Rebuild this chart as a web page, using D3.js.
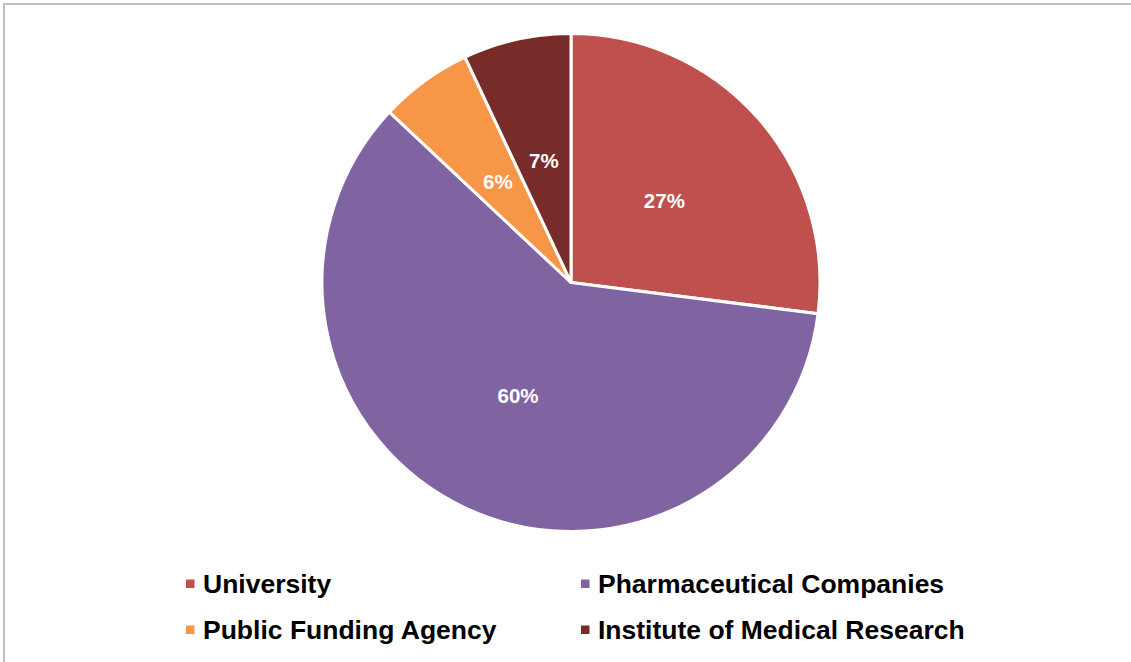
<!DOCTYPE html>
<html>
<head>
<meta charset="utf-8">
<script src="https://cdn.jsdelivr.net/npm/d3@7"></script>
<style>
  html, body { margin: 0; padding: 0; background: #fff; }
  svg { display: block; }
</style>
</head>
<body>
<svg id="chart" width="1131" height="662"></svg>
<script>
// Funding sources, share in percent
const categories = ["University", "Pharmaceutical Companies", "Public Funding Agency", "Institute of Medical Research"];
const shares = [27, 60, 6, 7];
const colors = ["#C0504D", "#8064A2", "#F79646", "#772C2A"];

const svg = d3.select("#chart");
const W = 1131, H = 662;

// chart frame (top, left, right edges visible)
svg.append("path")
  .attr("d", `M4,${H} V4 H${W}`)
  .attr("fill", "none")
  .attr("stroke", "#bfbfbf")
  .attr("stroke-width", 2);

const cx = 571, cy = 282.5, R = 249;

const data = categories.map((c, i) => ({ name: c, value: shares[i], color: colors[i] }));

const pie = d3.pie().value(d => d.value).sort(null);
const arc = d3.arc().innerRadius(0).outerRadius(R);

const g = svg.append("g").attr("transform", `translate(${cx},${cy})`);
const arcs = pie(data);

g.selectAll("path.slice")
  .data(arcs)
  .join("path")
  .attr("class", "slice")
  .attr("d", arc)
  .attr("fill", d => d.data.color)
  .attr("stroke", "#fff")
  .attr("stroke-width", 3)
  .attr("stroke-linejoin", "round");

g.selectAll("text.pct")
  .data(arcs)
  .join("text")
  .attr("class", "pct")
  .attr("transform", d => `translate(${arc.centroid(d)})`)
  .attr("text-anchor", "middle")
  .attr("dy", "0.36em")
  .attr("fill", "#fff")
  .attr("font-family", "Liberation Sans, Arial, sans-serif")
  .attr("font-weight", "bold")
  .attr("font-size", 20.5)
  .text(d => d.data.value + "%");

// legend: two columns, two rows
const legendCols = [186, 581];
const legendRows = [584, 630];
const legend = svg.append("g");
const items = legend.selectAll("g.item")
  .data(data)
  .join("g")
  .attr("class", "item")
  .attr("transform", (d, i) => `translate(${legendCols[i % 2]},${legendRows[Math.floor(i / 2)]})`);

items.append("rect")
  .attr("x", 0).attr("y", -4.5)
  .attr("width", 8.5).attr("height", 8.5)
  .attr("fill", d => d.color);

items.append("text")
  .attr("x", 17)
  .attr("dy", "0.35em")
  .attr("font-family", "Liberation Sans, Arial, sans-serif")
  .attr("font-weight", "bold")
  .attr("font-size", 26.5)
  .attr("fill", "#000")
  .text(d => d.name);
</script>
</body>
</html>
